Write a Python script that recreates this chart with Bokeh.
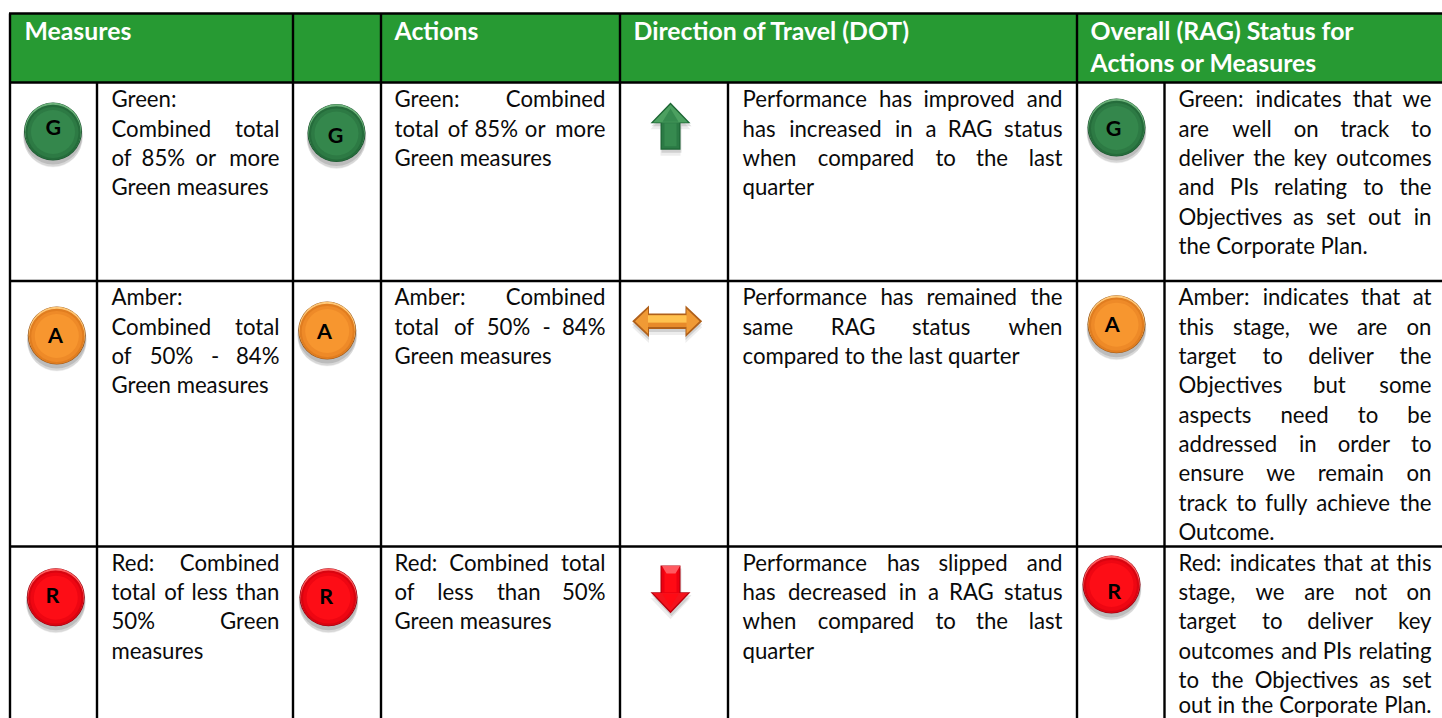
from bokeh.plotting import figure
from bokeh.embed import file_html
from bokeh.resources import INLINE
from bokeh.core.properties import value
from bokeh.models import ColumnDataSource

# ---------- content ----------
headers = [["Measures"], ["Actions"], ["Direction of Travel (DOT)"],
           ["Overall (RAG) Status for", "Actions or Measures"]]
rag_letters = ["G", "A", "R"]
measures_text = [
    ["Green:", "Combined total", "of 85% or more", "Green measures"],
    ["Amber:", "Combined total", "of 50% - 84%", "Green measures"],
    ["Red: Combined", "total of less than", "50% Green", "measures"],
]
actions_text = [
    ["Green: Combined", "total of 85% or more", "Green measures"],
    ["Amber: Combined", "total of 50% - 84%", "Green measures"],
    ["Red: Combined total", "of less than 50%", "Green measures"],
]
dot_text = [
    ["Performance has improved and", "has increased in a RAG status", "when compared to the last", "quarter"],
    ["Performance has remained the", "same RAG status when", "compared to the last quarter"],
    ["Performance has slipped and", "has decreased in a RAG status", "when compared to the last", "quarter"],
]
status_text = [
    ["Green: indicates that we", "are well on track to", "deliver the key outcomes",
     "and PIs relating to the", "Objectives as set out in", "the Corporate Plan."],
    ["Amber: indicates that at", "this stage, we are on", "target to deliver the", "Objectives but some",
     "aspects need to be", "addressed in order to", "ensure we remain on",
     "track to fully achieve the", "Outcome."],
    ["Red: indicates that at this", "stage, we are not on", "target to deliver key",
     "outcomes and PIs relating", "to the Objectives as set", "out in the Corporate Plan."],
]

# ---------- layout (page pixels) ----------
WIN_W, WIN_H = 1442, 718
TOP, HEAD_BOTTOM, ROW2, ROW3 = 13, 82, 280.5, 546
LEFT = 9.5
HEAD_COLS = [292.5, 380.5, 619.5, 1076.5]
BODY_COLS = [96.5, 292.5, 380.5, 619.5, 727.5, 1076.5, 1164]
FIRST_BASE = [107.3, 305.3, 570.7]
PITCH = 29.33
LAST_BASE_LIMIT = 713
FULL_WIDTH_LAST = {"out in the Corporate Plan."}
TEXT_COLS = [(111, 279), (394, 605), (742, 1062), (1178, 1431)]
HEAD_X = [24, 394, 633, 1090]
HEAD_BASE = [39, 71.5]
BODY_FONT, BODY_SIZE = "Lato", 22.2
HEAD_SIZE = 24.8
LETTER_SIZE = 21.5
BASE_FIX = 0.40   # em distance the renderer's baseline sits below the asked position
CIRCLE_POS = [
    [(52.5, 131), (56.3, 335), (55.3, 596.7)],
    [(336, 132.5), (326.7, 330), (328, 596.7)],
    [(1116, 127), (1116, 323.7), (1111, 584)],
]
LETTER_POS = [
    [(52.7, 128), (55, 336.7), (52, 596.7)],
    [(335, 136), (324, 332.7), (325.7, 597)],
    [(1113, 129), (1111.7, 325.7), (1113.7, 592)],
]
RADIUS = 29
PALETTE = {
    "G": dict(rim="#1c5530", light="#6db27b", main="#2d7a44", core="#34874c", low="#256c3b"),
    "A": dict(rim="#9c5a1c", light="#ffc878", main="#ee8a28", core="#f7962f", low="#e07d20"),
    "R": dict(rim="#960010", light="#ff6060", main="#ee0612", core="#fd0d16", low="#d80410"),
}

# Calibri advance widths, used only to share out the justified gaps
CW = dict(a=.479, b=.525, c=.423, d=.525, e=.498, f=.305, g=.471, h=.525, i=.229, j=.239, k=.455,
          l=.229, m=.799, n=.525, o=.527, p=.525, q=.525, r=.349, s=.391, t=.335, u=.525, v=.452,
          w=.715, x=.433, y=.453, z=.395, A=.579, B=.544, C=.533, D=.615, E=.488, F=.459, G=.631,
          H=.623, I=.252, J=.319, K=.520, L=.420, M=.855, N=.646, O=.662, P=.517, Q=.673, R=.543,
          S=.459, T=.487, U=.642, V=.567, W=.890, X=.519, Y=.487, Z=.468)
CW.update({"%": .715, ":": .267, ",": .250, ".": .252, "-": .306})
def word_w(w):
    return sum(CW.get(c, .507) for c in w) * 24

p = figure(width=WIN_W, height=WIN_H, x_range=(0, WIN_W), y_range=(WIN_H, 0),
           output_backend="svg", toolbar_location=None, x_axis_location=None, y_axis_location=None,
           min_border=0, outline_line_color=None, background_fill_color="white", border_fill_color="white")
p.grid.visible = False

# header band
p.quad(left=[LEFT], right=[WIN_W], top=[TOP], bottom=[HEAD_BOTTOM], fill_color="#279a33", line_color=None)

# grid
sx0, sx1, sy0, sy1 = [], [], [], []
def seg(a, b, c, d):
    sx0.append(a); sy0.append(b); sx1.append(c); sy1.append(d)
seg(LEFT - 1, TOP, WIN_W, TOP)
for y in (HEAD_BOTTOM, ROW2, ROW3):
    seg(LEFT, y, WIN_W, y)
seg(LEFT, TOP, LEFT, WIN_H)
for x in HEAD_COLS:
    seg(x, TOP, x, HEAD_BOTTOM)
for x in BODY_COLS:
    seg(x, HEAD_BOTTOM, x, WIN_H)
p.segment(sx0, sy0, sx1, sy1, line_color="black", line_width=2.4)

# round badges, shading built from stacked discs
for col, lcol in zip(CIRCLE_POS, LETTER_POS):
    for letter, (cx, cy), (lx, ly) in zip(rag_letters, col, lcol):
        c = PALETTE[letter]
        for dy, dr, a in [(7, 0, .04), (6, .5, .05), (5, 1, .07), (3.5, .5, .12)]:
            p.circle([cx], [cy + dy], radius=RADIUS + dr, fill_color="black", fill_alpha=a, line_color=None)
        p.circle([cx], [cy], radius=RADIUS, fill_color=c["rim"], line_color=None)
        p.circle([cx], [cy - .5], radius=RADIUS - .8, fill_color=c["light"], line_color=None)
        p.circle([cx], [cy + .9], radius=RADIUS - 1.3, fill_color=c["low"], line_color=None)
        p.circle([cx], [cy + .9], radius=RADIUS - 3.5, fill_color=c["main"], line_color=None)
        p.circle([cx], [cy + .5], radius=RADIUS - 7, fill_color=c["core"], line_color=None)
        p.text([lx], [ly + 7.6 - 0.44 * LETTER_SIZE], text=[letter], text_align="center", text_baseline="alphabetic",
               text_font=value(BODY_FONT), text_font_style="bold", text_font_size=f"{LETTER_SIZE}px", text_color="black")

# arrows
def poly(xs, ys, color, alpha=1.0):
    p.patch(xs, ys, fill_color=color, fill_alpha=alpha, line_color=None)

def vertical_arrow(cx, tip, barb, end, colors):
    xs = [cx, cx + 20, cx + 10, cx + 10, cx - 10, cx - 10, cx - 20]
    ys = [tip, barb, barb, end, end, barb, barb]
    poly(xs, [y + 6 for y in ys], "black", .07)
    poly([x + 1 for x in xs], [y + 3 for y in ys], "black", .12)
    poly(xs, ys, colors["edge"])
    d = 1 if tip < barb else -1
    # stem: lit left strip, body, shaded right strip
    poly([cx - 8.8, cx + 8.8, cx + 8.8, cx - 8.8], [barb - d, barb - d, end - d * 1.2, end - d * 1.2], colors["stem"])
    poly([cx - 6, cx + 6, cx + 6, cx - 6], [barb, barb, end - d * 3.5, end - d * 3.5], colors["mid"])
    # head: two lit facets
    poly([cx, cx + 17.5, cx - 17.5], [tip + d * 2, barb - d * .8, barb - d * .8], colors["head"])
    poly([cx, cx + 8, cx - 8], [tip + d * 6, barb - d * 1.5, barb - d * 1.5], colors["mid"])

vertical_arrow(670, 102, 122.7, 149.3, dict(edge="#1c6534", stem="#2b7a45", mid="#368a4f", head="#4ca060"))
vertical_arrow(670, 612.7, 591.7, 565, dict(edge="#b8000e", stem="#ec0010", mid="#ff0a14", head="#f4121c"))
poly([661.5, 679.5, 675, 666], [565.5, 565.5, 573, 573], "#ff5a60")

cy = 320.7
dx = [631.7, 648.5, 648.5, 685, 685, 701.7, 685, 685, 648.5, 648.5]
dy = [cy, cy - 15.7, cy - 7.7, cy - 7.7, cy - 15.7, cy, cy + 15.7, cy + 7.7, cy + 7.7, cy + 15.7]
poly(dx, [y + 6 for y in dy], "black", .07)
poly(dx, [y + 3 for y in dy], "black", .12)
poly(dx, dy, "#b0601a")
poly([634.5, 647.5, 647.5, 686, 686, 699, 686, 686, 647.5, 647.5],
     [cy, cy - 12.5, cy - 5.8, cy - 5.8, cy - 12.5, cy, cy + 12.5, cy + 5.5, cy + 5.5, cy + 12.5], "#f09a35")
poly([647.5, 686, 686, 647.5], [cy - 6, cy - 6, cy + 1.5, cy + 1.5], "#ffc24f")
poly([647.5, 686, 686, 647.5], [cy + 1.5, cy + 1.5, cy + 5.5, cy + 5.5], "#e88a2a")

# text
groups = {"left": ([], [], []), "center": ([], [], []), "right": ([], [], [])}
def put(align, x, y, t):
    g = groups[align]
    g[0].append(x); g[1].append(y - BASE_FIX * BODY_SIZE); g[2].append(t)

for (x0, x1), column in zip(TEXT_COLS, (measures_text, actions_text, dot_text, status_text)):
    for base, para in zip(FIRST_BASE, column):
        for i, line in enumerate(para):
            y = min(base + i * PITCH, LAST_BASE_LIMIT)
            words = line.split(" ")
            last = i == len(para) - 1 and line not in FULL_WIDTH_LAST
            if last or len(words) == 1:
                put("left", x0, y, line)
                continue
            widths = [word_w(w) for w in words]
            gap = (x1 - x0 - sum(widths)) / (len(words) - 1)
            x = x0
            for j, (w, ww) in enumerate(zip(words, widths)):
                if j == 0:
                    put("left", x0, y, w)
                elif j == len(words) - 1:
                    put("right", x1, y, w)
                else:
                    put("center", x + ww / 2, y, w)
                x += ww + gap

for align, (xs, ys, ts) in groups.items():
    src = ColumnDataSource(dict(x=xs, y=ys, t=ts))
    p.text("x", "y", text="t", source=src, text_align=align, text_baseline="alphabetic",
           text_font=value(BODY_FONT), text_font_size=f"{BODY_SIZE}px", text_color="#0a0a0a")

for x, lines in zip(HEAD_X, headers):
    for y, line in zip(HEAD_BASE, lines):
        p.text([x], [y - 0.37 * HEAD_SIZE], text=[line], text_baseline="alphabetic", text_align="left",
               text_font=value(BODY_FONT), text_font_style="bold", text_font_size=f"{HEAD_SIZE}px", text_color="white")

open("out.html", "w").write(file_html(p, INLINE))
